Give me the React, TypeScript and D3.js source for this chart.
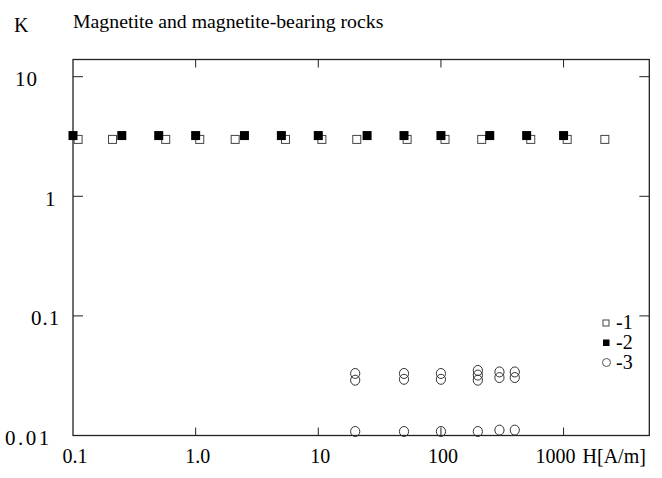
import React from "react";
import * as d3 from "d3";

// axis ticks
const xTicks = [0.1, 1, 10, 100, 1000];
const xTickLabels = ["0.1", "1.0", "10", "100", "1000"];
const yTicks = [10, 1, 0.1, 0.01];
const yTickLabels = ["10", "1", "0.1", "0.01"];

// series 1: open squares
const s1H = [0.11, 0.21, 0.57, 1.08, 2.1, 5.4, 10.7, 20.6, 53, 108, 215, 540, 1070, 2170];
const s1K = [2.99, 2.99, 2.99, 2.99, 2.99, 2.99, 2.99, 2.99, 2.99, 2.99, 2.99, 2.99, 2.99, 2.99];

// series 2: filled squares
const s2H = [0.1, 0.25, 0.5, 1, 2.5, 5, 10, 25, 50, 100, 250, 500, 1000];
const s2K = [3.22, 3.22, 3.22, 3.22, 3.22, 3.22, 3.22, 3.22, 3.22, 3.22, 3.22, 3.22, 3.22];

// series 3: open circles
const s3H = [20, 20, 20, 50, 50, 50, 100, 100, 100, 200, 200, 200, 200, 300, 300, 300, 400, 400, 400];
const s3K = [0.033, 0.029, 0.0108, 0.033, 0.0295, 0.0108, 0.033, 0.0295, 0.0108, 0.035, 0.032, 0.029, 0.0108, 0.034, 0.0305, 0.0111, 0.034, 0.0305, 0.0111];

const legendLabels = ["-1", "-2", "-3"];

const W = 662;
const H = 478;
const left = 73;
const right = 649.3;
const top = 59.5;
const bottom = 435.5;
const font = "'Liberation Serif', 'Times New Roman', serif";

export default function App() {
  const x = d3.scaleLog().domain([0.1, 5000]).range([left, right]);
  const y = d3.scaleLog().domain([0.01, 10]).range([bottom, 76.7]);

  const sq = 9;
  // label placement for the y axis (as placed in the figure)
  const yLabelX = [15, 45, 31, 5];
  const yLabelSpacing = [1, 1, 1, 2.5];

  return (
    <svg
      width={W}
      height={H}
      style={{ position: "absolute", left: 0, top: 0, background: "#fff", fontFamily: font }}
    >
      <rect x={0} y={0} width={W} height={H} fill="#fff" />
      <text x={14} y={31.5} fontSize={20}>K</text>
      <text x={73} y={28} fontSize={19.8}>Magnetite and magnetite-bearing rocks</text>

      {/* frame */}
      <rect x={left} y={top} width={right - left} height={bottom - top} fill="none" stroke="#222" strokeWidth={1.3} />

      {/* x ticks top & bottom */}
      {xTicks.slice(1).map((t) => (
        <g key={"xt" + t}>
          <line x1={x(t)} x2={x(t)} y1={bottom} y2={bottom - 8} stroke="#222" />
          <line x1={x(t)} x2={x(t)} y1={top} y2={top + 8} stroke="#222" />
        </g>
      ))}
      {/* y ticks left & right */}
      {yTicks.slice(0, 3).map((t) => (
        <g key={"yt" + t}>
          <line x1={left} x2={left + 10} y1={y(t)} y2={y(t)} stroke="#222" />
          <line x1={right} x2={right - 10} y1={y(t)} y2={y(t)} stroke="#222" />
        </g>
      ))}

      {/* x labels */}
      {xTicks.map((t, i) =>
        i < 4 ? (
          <text key={"xl" + t} x={x(t) + 2} y={463} fontSize={20} textAnchor="middle">
            {xTickLabels[i]}
          </text>
        ) : (
          <text key={"xl" + t} x={x(t) + 12} y={463} fontSize={20} textAnchor="end">
            {xTickLabels[i]}
          </text>
        )
      )}
      <text x={x(1000) + 19} y={463} fontSize={20}>H[A/m]</text>

      {/* y labels */}
      {yTicks.map((t, i) => (
        <text key={"yl" + t} x={yLabelX[i]} y={y(t) + 9.5} fontSize={21} letterSpacing={yLabelSpacing[i]}>
          {yTickLabels[i]}
        </text>
      ))}

      {/* series 1 */}
      {s1H.map((h, i) => (
        <rect
          key={"s1" + i}
          x={x(h) - sq / 2 + 0.5}
          y={y(s1K[i]) - sq / 2 + 0.5}
          width={sq - 1}
          height={sq - 1}
          fill="#fff"
          stroke="#444"
          strokeWidth={1}
        />
      ))}
      {/* series 2 */}
      {s2H.map((h, i) => (
        <rect key={"s2" + i} x={x(h) - sq / 2} y={y(s2K[i]) - sq / 2} width={sq} height={sq} fill="#000" />
      ))}
      {/* series 3 */}
      {s3H.map((h, i) => (
        <ellipse key={"s3" + i} cx={x(h)} cy={y(s3K[i])} rx={4.6} ry={5} fill="none" stroke="#333" strokeWidth={1} />
      ))}

      {/* legend */}
      <rect x={603} y={320} width={6} height={6} fill="#fff" stroke="#444" strokeWidth={1} />
      <rect x={603} y={339.5} width={6.5} height={6.5} fill="#000" />
      <circle cx={606.5} cy={362.5} r={4} fill="#fff" stroke="#555" strokeWidth={1} />
      {legendLabels.map((l, i) => (
        <text key={l} x={616} y={328.5 + i * 20} fontSize={20}>
          {l}
        </text>
      ))}
    </svg>
  );
}
